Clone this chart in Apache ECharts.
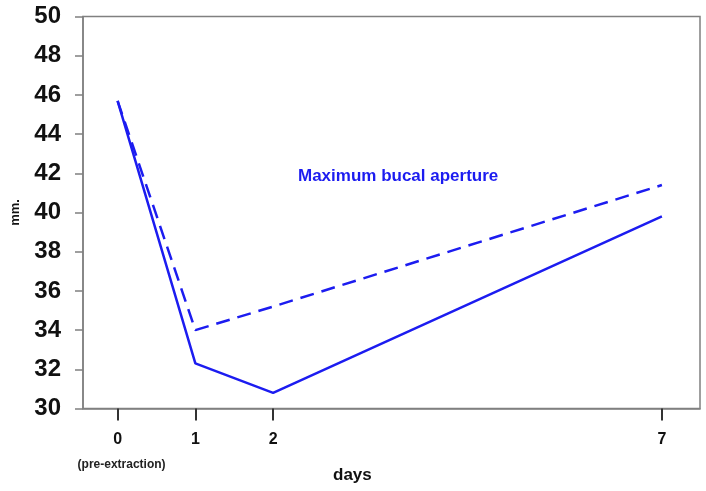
<!DOCTYPE html>
<html><head><meta charset="utf-8">
<script src="https://cdn.jsdelivr.net/npm/echarts@6/dist/echarts.min.js"></script>
<style>html,body{margin:0;padding:0;background:#fff}#c{width:706px;height:491px}</style>
</head><body><div id="c"></div>
<script>
const days = [0, 1, 2, 7];
const solidValues = [45.7, 32.3, 30.8, 39.8];
const dashedDays = [0, 1, 2, 7];
const dashedValues = [45.7, 34.0, 35.2, 41.4];
const yTicks = [30, 32, 34, 36, 38, 40, 42, 44, 46, 48, 50];
const xTicks = [0, 1, 2, 7];
const annotation = 'Maximum bucal aperture';
const xTitle = 'days';
const yTitle = 'mm.';
const preLabel = '(pre-extraction)';

const blue = '#1c1cf0';
const chart = echarts.init(document.getElementById('c'));
chart.setOption({
  animation: false,
  backgroundColor: '#fff',
  grid: {left: 83, right: 6, top: 16.5, bottom: 82.5, show: true, borderColor: '#808080', borderWidth: 1.5, backgroundColor: 'transparent'},
  xAxis: {
    type: 'value', min: -0.445, max: 7.49,
    axisLine: {onZero: false, lineStyle: {color: '#808080', width: 1.5}},
    splitLine: {show: false},
    axisTick: {customValues: xTicks, length: 12, lineStyle: {color: '#333', width: 2}},
    axisLabel: {
      customValues: xTicks, margin: 23, color: '#111',
      fontFamily: 'Liberation Sans', fontWeight: 'bold', fontSize: 16,
      formatter: v => v === 0 ? '{a|0}\n{b|' + preLabel + '}' : '{a|' + v + '}',
      rich: {
        a: {fontFamily: 'Liberation Sans', fontWeight: 'bold', fontSize: 16, color: '#111', lineHeight: 17},
        b: {fontFamily: 'Liberation Sans', fontWeight: 'bold', fontSize: 12, color: '#222', lineHeight: 24, padding: [9, 0, 0, 8]}
      }
    }
  },
  yAxis: {
    type: 'value', min: 30, max: 50, interval: 2,
    name: yTitle, nameLocation: 'middle', nameGap: 61, nameRotate: 90,
    nameTextStyle: {fontFamily: 'Liberation Sans', fontWeight: 'bold', fontSize: 13, color: '#111'},
    axisLine: {show: true, onZero: false, lineStyle: {color: '#808080', width: 1.5}},
    splitLine: {show: false},
    axisTick: {show: true, length: 8, lineStyle: {color: '#808080', width: 1.5}},
    axisLabel: {margin: 22, color: '#111', fontFamily: 'Liberation Sans', fontWeight: 'bold', fontSize: 24,
      formatter: v => yTicks.includes(v) ? String(v) : ''}
  },
  series: [
    {type: 'line', data: days.map((d, i) => [d, solidValues[i]]), showSymbol: false,
     lineStyle: {color: blue, width: 2.5}},
    {type: 'line', data: dashedDays.map((d, i) => [d, dashedValues[i]]), showSymbol: false,
     lineStyle: {color: blue, width: 2.5, type: [14, 8]}}
  ],
  graphic: [
    {type: 'text', left: 298, top: 168, style: {text: annotation, fill: blue, font: 'bold 17px "Liberation Sans"'}},
    {type: 'text', left: 333, top: 467, style: {text: xTitle, fill: '#111', font: 'bold 17px "Liberation Sans"'}}
  ]
});
</script></body></html>
